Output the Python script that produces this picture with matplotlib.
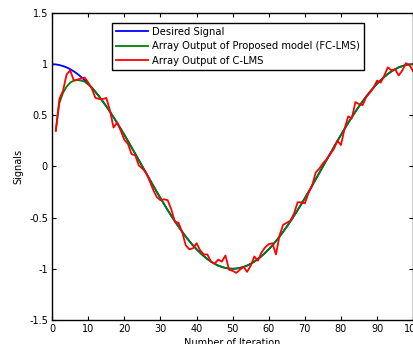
import numpy as np
import matplotlib.pyplot as plt

# desired signal (iteration 0..100)
iter_desired = list(range(0, 101))
desired = [1.0, 0.998, 0.992, 0.982, 0.969, 0.951, 0.93, 0.905, 0.876, 0.844, 0.809,
           0.771, 0.729, 0.685, 0.637, 0.588, 0.536, 0.482, 0.426, 0.368, 0.309,
           0.249, 0.187, 0.125, 0.063, 0.0, -0.063, -0.125, -0.187, -0.249, -0.309,
           -0.368, -0.426, -0.482, -0.536, -0.588, -0.637, -0.685, -0.729, -0.771, -0.809,
           -0.844, -0.876, -0.905, -0.93, -0.951, -0.969, -0.982, -0.992, -0.998, -1.0,
           -0.998, -0.992, -0.982, -0.969, -0.951, -0.93, -0.905, -0.876, -0.844, -0.809,
           -0.771, -0.729, -0.685, -0.637, -0.588, -0.536, -0.482, -0.426, -0.368, -0.309,
           -0.249, -0.187, -0.125, -0.063, 0.0, 0.063, 0.125, 0.187, 0.249, 0.309,
           0.368, 0.426, 0.482, 0.536, 0.588, 0.637, 0.685, 0.729, 0.771, 0.809,
           0.844, 0.876, 0.905, 0.93, 0.951, 0.969, 0.982, 0.992, 0.998, 1.0]

# outputs, iteration 1..100
iter_out = list(range(1, 101))
fclms_start = [0.35, 0.62, 0.72, 0.78, 0.82, 0.84, 0.845, 0.84, 0.83, 0.80]
fclms = fclms_start + desired[11:]

clms = [0.35, 0.66, 0.74, 0.90, 0.94, 0.84, 0.85, 0.86, 0.87, 0.82,
        0.76, 0.67, 0.66, 0.66, 0.67, 0.55, 0.38, 0.43, 0.35, 0.26,
        0.22, 0.12, 0.11, 0.01, -0.02, -0.06, -0.14, -0.23, -0.30, -0.33,
        -0.32, -0.33, -0.42, -0.54, -0.55, -0.64, -0.77, -0.81, -0.80, -0.75,
        -0.82, -0.86, -0.86, -0.93, -0.95, -0.91, -0.93, -0.87, -1.01, -1.02,
        -1.04, -1.01, -0.98, -1.03, -0.97, -0.88, -0.92, -0.84, -0.79, -0.76,
        -0.75, -0.86, -0.67, -0.57, -0.55, -0.53, -0.46, -0.35, -0.35, -0.36,
        -0.26, -0.19, -0.06, -0.02, 0.03, 0.07, 0.12, 0.17, 0.25, 0.21,
        0.37, 0.49, 0.47, 0.63, 0.61, 0.60, 0.68, 0.72, 0.77, 0.84,
        0.82, 0.89, 0.97, 0.94, 0.95, 0.89, 0.94, 1.01, 0.99, 0.93]

xticks = [0, 10, 20, 30, 40, 50, 60, 70, 80, 90, 100]
yticks = [-1.5, -1, -0.5, 0, 0.5, 1, 1.5]
ytick_labels = ['-1.5', '-1', '-0.5', '0', '0.5', '1', '1.5']

fig = plt.figure(figsize=(4.14, 3.44), dpi=100)
ax = fig.add_axes([0.126, 0.070, 0.872, 0.892])

ax.plot(iter_desired, desired, color=(0, 0, 1), lw=1.3, label='Desired Signal')
ax.plot(iter_out, fclms, color=(0, 0.5, 0), lw=1.3,
        label='Array Output of Proposed model (FC-LMS)')
ax.plot(iter_out, clms, color=(1, 0, 0), lw=1.3, label='Array Output of C-LMS')

ax.set_xlim(0, 100)
ax.set_ylim(-1.5, 1.5)
ax.set_xticks(xticks)
ax.set_yticks(yticks)
ax.set_yticklabels(ytick_labels)
ax.tick_params(direction='in', top=True, right=True, labelsize=7, length=3, pad=3)
for s in ax.spines.values():
    s.set_linewidth(1.0)

ax.set_xlabel('Number of Iteration', fontsize=7, labelpad=3)
ax.set_ylabel('Signals', fontsize=7, labelpad=4)

leg = ax.legend(loc='upper left', bbox_to_anchor=(0.165, 0.969), fontsize=7.2,
                fancybox=False, framealpha=1, edgecolor='black',
                handlelength=3.2, borderpad=0.4, labelspacing=0.45,
                handletextpad=0.45, borderaxespad=0)
leg.get_frame().set_linewidth(1.0)

fig.savefig('out.png', dpi=100)
